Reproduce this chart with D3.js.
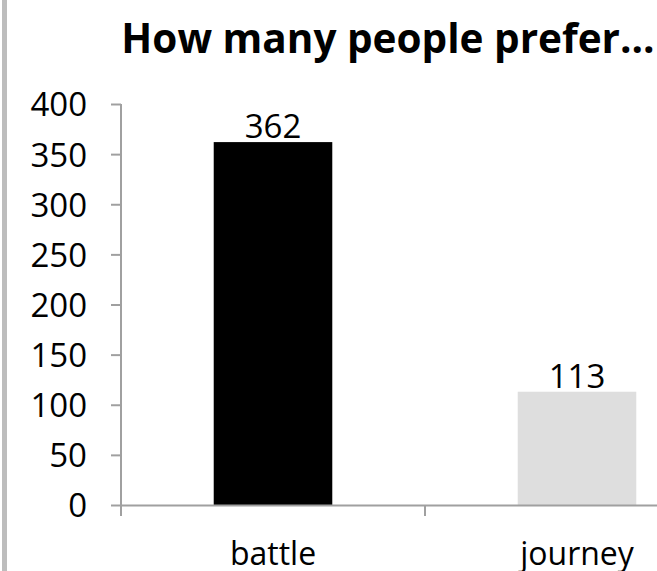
<!DOCTYPE html>
<html>
<head>
<meta charset="utf-8">
<script src="https://cdn.jsdelivr.net/npm/d3@7"></script>
<style>
  html, body { margin: 0; padding: 0; background: #fff; }
  svg { display: block; }
  text { font-family: "Open Sans", "DejaVu Sans", sans-serif; fill: #000; }
</style>
</head>
<body>
<script>
// Survey answers: how many people prefer each option
const categories = ["battle", "journey"];
const counts = [362, 113];
const barColors = ["#000000", "#dedede"];
const yTicks = [0, 50, 100, 150, 200, 250, 300, 350, 400];
const title = "How many people prefer...";

const W = 657, H = 571;
const svg = d3.select("body").append("svg").attr("width", W).attr("height", H);

// thin grey frame edge on the left
svg.append("rect").attr("x", 2).attr("y", 0).attr("width", 5).attr("height", H).attr("fill", "#bdbdbd");

// plot area: the category band runs past the right edge of the frame
const x = d3.scaleBand().domain(categories).range([121, 729]).paddingInner(0).paddingOuter(0);
const y = d3.scaleLinear().domain([0, 400]).range([505, 104]);

const axisColor = "#a0a0a0";

// y axis
const yAxis = svg.append("g").attr("transform", "translate(121,0)")
  .call(d3.axisLeft(y).tickValues(yTicks).tickSize(10).tickPadding(24).tickSizeOuter(0));
yAxis.select(".domain").attr("stroke", axisColor).attr("stroke-width", 2)
  .attr("d", `M0,${y(400)}V${y(0) + 11}`);
yAxis.selectAll(".tick line").attr("stroke", axisColor).attr("stroke-width", 2);
yAxis.selectAll(".tick text").attr("font-size", 33).attr("fill", "#000")
  .attr("font-family", "Open Sans").attr("dy", "0.36em");

// bars
const barW = x.bandwidth() * 0.39;
svg.append("g").selectAll("rect").data(categories).join("rect")
  .attr("x", d => x(d) + x.bandwidth() / 2 - barW / 2)
  .attr("y", (d, i) => y(counts[i]))
  .attr("width", barW)
  .attr("height", (d, i) => y(0) - y(counts[i]))
  .attr("fill", (d, i) => barColors[i]);

// x axis
const xAxis = svg.append("g").attr("transform", `translate(0,${y(0)})`)
  .call(d3.axisBottom(x).tickSize(0));
xAxis.select(".domain").attr("stroke", axisColor).attr("stroke-width", 2);
xAxis.selectAll(".tick text").attr("font-size", 32).attr("fill", "#000")
  .attr("font-family", "Open Sans").attr("y", 60).attr("dy", 0);
// category boundary ticks
xAxis.selectAll("line.bound").data([x("journey")]).join("line").attr("class", "bound")
  .attr("x1", d => d).attr("x2", d => d).attr("y1", 0).attr("y2", 11)
  .attr("stroke", axisColor).attr("stroke-width", 2);

// value labels
svg.append("g").selectAll("text").data(categories).join("text")
  .attr("x", d => x(d) + x.bandwidth() / 2)
  .attr("y", (d, i) => y(counts[i]) - 4)
  .attr("text-anchor", "middle")
  .attr("font-size", 33)
  .text((d, i) => counts[i]);

// title
svg.append("text").attr("x", 388).attr("y", 53).attr("text-anchor", "middle")
  .attr("font-size", 40.5).attr("font-weight", "bold").text(title);
</script>
</body>
</html>
